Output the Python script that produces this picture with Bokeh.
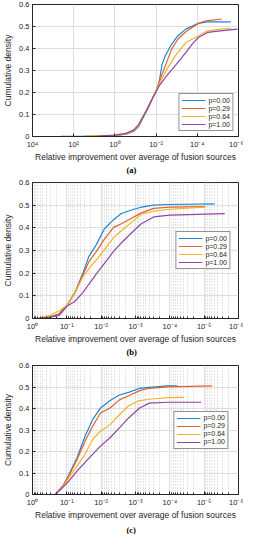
import numpy as np
from bokeh.plotting import figure
from bokeh.models import Range1d, FixedTicker, Legend, LegendItem, Title
from bokeh.layouts import column
from bokeh.embed import file_html
from bokeh.resources import INLINE

# ---------------- data (x stored as log10 of relative improvement) ----------------
series_labels = ["p=0.00", "p=0.29", "p=0.64", "p=1.00"]
series_colors = ["#1f86cf", "#e0622e", "#f2b42c", "#8f45a3"]

y_ticks = [0.0, 0.1, 0.2, 0.3, 0.4, 0.5, 0.6]
y_tick_labels = ["0", "0.1", "0.2", "0.3", "0.4", "0.5", "0.6"]

# panel (a)
a_exp_p000 = [2.6, 1.0, 0.0, -0.53, -0.92, -1.15, -1.30, -1.50, -1.68, -1.85, -2.02, -2.14, -2.29, -2.44, -2.75, -3.05, -3.44, -4.05, -4.50, -5.62]
a_cd_p000 = [0.001, 0.002, 0.004, 0.011, 0.024, 0.045, 0.072, 0.108, 0.143, 0.178, 0.21, 0.244, 0.328, 0.366, 0.419, 0.457, 0.488, 0.514, 0.521, 0.521]
a_exp_p029 = [1.5, 0.0, -0.53, -0.92, -1.15, -1.30, -1.50, -1.68, -1.85, -2.02, -2.14, -2.44, -2.75, -3.05, -3.44, -4.05, -4.43, -5.19]
a_cd_p029 = [0.001, 0.005, 0.012, 0.026, 0.05, 0.076, 0.11, 0.145, 0.18, 0.213, 0.244, 0.32, 0.396, 0.442, 0.476, 0.514, 0.526, 0.534]
a_exp_p064 = [1.3, 0.0, -0.53, -0.92, -1.15, -1.30, -1.50, -1.68, -1.85, -2.02, -2.14, -2.52, -2.98, -3.44, -4.05, -4.50, -5.11, -5.62]
a_cd_p064 = [0.001, 0.005, 0.012, 0.027, 0.05, 0.077, 0.112, 0.147, 0.18, 0.21, 0.236, 0.305, 0.373, 0.427, 0.457, 0.48, 0.488, 0.491]
a_exp_p100 = [0.8, 0.0, -0.53, -0.92, -1.15, -1.30, -1.50, -1.68, -1.85, -2.02, -2.14, -2.52, -2.98, -3.44, -3.74, -4.05, -4.50, -5.11, -5.95]
a_cd_p100 = [0.002, 0.006, 0.014, 0.03, 0.054, 0.08, 0.113, 0.146, 0.178, 0.207, 0.229, 0.277, 0.328, 0.381, 0.419, 0.45, 0.473, 0.48, 0.488]

# panel (b)
b_exp_p000 = [-0.15, -0.51, -0.78, -1.01, -1.23, -1.46, -1.64, -1.86, -2.09, -2.36, -2.59, -2.95, -3.17, -3.53, -3.99, -5.30]
b_cd_p000 = [0.0, 0.006, 0.021, 0.059, 0.113, 0.197, 0.273, 0.326, 0.395, 0.436, 0.463, 0.482, 0.491, 0.5, 0.503, 0.506]
b_exp_p029 = [-0.15, -0.51, -0.78, -1.01, -1.23, -1.46, -1.64, -1.86, -2.09, -2.36, -2.59, -2.95, -3.17, -3.53, -3.99, -5.03]
b_cd_p029 = [0.0, 0.006, 0.021, 0.059, 0.113, 0.189, 0.25, 0.296, 0.349, 0.402, 0.418, 0.448, 0.466, 0.486, 0.491, 0.494]
b_exp_p064 = [-0.15, -0.51, -0.78, -1.01, -1.23, -1.46, -1.64, -1.86, -2.09, -2.36, -2.59, -2.95, -3.17, -3.53, -3.99, -5.03]
b_cd_p064 = [0.0, 0.014, 0.034, 0.059, 0.11, 0.181, 0.22, 0.258, 0.303, 0.357, 0.387, 0.433, 0.46, 0.474, 0.482, 0.491]
b_exp_p100 = [-0.15, -0.51, -0.78, -1.01, -1.23, -1.46, -1.64, -1.86, -2.09, -2.36, -2.59, -2.95, -3.17, -3.53, -3.99, -5.60]
b_cd_p100 = [0.0, 0.006, 0.014, 0.055, 0.075, 0.113, 0.151, 0.197, 0.242, 0.296, 0.334, 0.387, 0.418, 0.448, 0.456, 0.463]

# panel (c)
c_exp_p000 = [-0.66, -0.89, -1.07, -1.30, -1.53, -1.75, -1.98, -2.26, -2.53, -2.80, -3.12, -3.40, -3.95, -4.22]
c_cd_p000 = [0.0, 0.041, 0.095, 0.172, 0.271, 0.348, 0.402, 0.437, 0.463, 0.475, 0.494, 0.498, 0.505, 0.505]
c_exp_p029 = [-0.66, -0.89, -1.07, -1.30, -1.53, -1.75, -1.98, -2.26, -2.53, -2.80, -3.12, -3.40, -3.95, -5.23]
c_cd_p029 = [0.0, 0.041, 0.09, 0.164, 0.248, 0.317, 0.379, 0.402, 0.44, 0.459, 0.483, 0.494, 0.501, 0.505]
c_exp_p064 = [-0.66, -0.89, -1.07, -1.30, -1.53, -1.75, -1.98, -2.26, -2.53, -2.80, -3.12, -3.40, -3.95, -4.41]
c_cd_p064 = [0.0, 0.038, 0.08, 0.133, 0.187, 0.256, 0.294, 0.325, 0.371, 0.413, 0.437, 0.443, 0.451, 0.452]
c_exp_p100 = [-0.66, -0.89, -1.07, -1.30, -1.53, -1.75, -1.98, -2.26, -2.53, -2.80, -3.12, -3.40, -3.95, -4.91]
c_cd_p100 = [0.0, 0.034, 0.064, 0.11, 0.149, 0.187, 0.225, 0.264, 0.31, 0.356, 0.402, 0.425, 0.429, 0.429]

a_tick_exps = [4, 2, 0, -2, -4, -6]
bc_tick_exps = [0, -1, -2, -3, -4, -5, -6]

x_label = "Relative improvement over average of fusion sources"
y_label = "Cumulative density"

SUP = str.maketrans("-0123456789", "⁻⁰¹²³⁴⁵⁶⁷⁸⁹")
AX = "#262626"


def build(series, x_start, tick_exps, with_minor, leg_loc, leg_margin, tag,
          height, top_border, tag_valign):
    p = figure(width=243, height=height, x_axis_type="log",
               x_range=Range1d(x_start, 1e-6), y_range=Range1d(0, 0.6),
               output_backend="svg", toolbar_location=None,
               min_border_left=23, min_border_right=5,
               min_border_top=top_border, min_border_bottom=0)
    p.title.visible = False
    p.outline_line_color = AX
    p.outline_line_width = 1
    p.border_fill_alpha = 0

    ticks = [10.0 ** e for e in tick_exps]
    minor = []
    if with_minor:
        minor = [m * 10.0 ** e for e in range(min(tick_exps), max(tick_exps)) for m in range(2, 10)]
    p.xaxis.ticker = FixedTicker(ticks=ticks, minor_ticks=minor)
    p.xaxis.major_label_overrides = {t: "10" + str(e).translate(SUP) for t, e in zip(ticks, tick_exps)}
    p.yaxis.ticker = FixedTicker(ticks=y_ticks)
    p.yaxis.major_label_overrides = dict(zip(y_ticks, y_tick_labels))

    for ax in (p.xaxis[0], p.yaxis[0]):
        ax.axis_line_color = AX
        ax.major_tick_line_color = AX
        ax.minor_tick_line_color = AX
        ax.major_tick_in = 3
        ax.major_tick_out = 0
        ax.minor_tick_in = 2 if with_minor else 0
        ax.minor_tick_out = 0
        ax.major_label_text_font = "Liberation Sans"
        ax.major_label_text_font_size = "7.5px"
        ax.major_label_text_color = AX
        ax.axis_label_text_font = "Liberation Sans"
        ax.axis_label_text_font_size = "8.5px"
        ax.axis_label_text_font_style = "normal"
        ax.axis_label_text_color = AX
    p.yaxis.minor_tick_in = 0
    p.xaxis.axis_label = x_label
    p.yaxis.axis_label = y_label
    p.xaxis.major_label_standoff = 3
    p.xaxis.axis_label_standoff = 0
    p.yaxis.major_label_standoff = 3
    p.yaxis.axis_label_standoff = 3

    p.xgrid.grid_line_color = "#dedede"
    p.ygrid.grid_line_color = "#dedede"
    if with_minor:
        p.xgrid.minor_grid_line_color = "#c8c8c8"
        p.xgrid.minor_grid_line_dash = "1 2"

    items = []
    for (ex, cd), lab, col in zip(series, series_labels, series_colors):
        r = p.line(10.0 ** np.array(ex), cd, line_color=col, line_width=1.2)
        items.append(LegendItem(label=lab, renderers=[r]))
    leg = Legend(items=items, location=leg_loc, margin=leg_margin,
                 border_line_color=AX, border_line_width=1,
                 background_fill_color="white", background_fill_alpha=1,
                 label_text_font="Liberation Sans", label_text_font_size="7px",
                 label_text_color=AX, label_height=8, glyph_height=8,
                 glyph_width=24, label_standoff=3, padding=2, spacing=0)
    p.add_layout(leg)

    t = Title(text=tag, align="left", offset=94, text_font="Liberation Serif",
              text_font_style="bold", text_font_size="8.5px", text_color="black",
              standoff=0, vertical_align=tag_valign)
    p.add_layout(t, "below")
    return p


pa = build([(a_exp_p000, a_cd_p000), (a_exp_p029, a_cd_p029),
            (a_exp_p064, a_cd_p064), (a_exp_p100, a_cd_p100)],
           1e4, a_tick_exps, False, "bottom_right", 5, "(a)", 176, 4, "top")
pb = build([(b_exp_p000, b_cd_p000), (b_exp_p029, b_cd_p029),
            (b_exp_p064, b_cd_p064), (b_exp_p100, b_cd_p100)],
           1.0, bc_tick_exps, True, "center_right", 8, "(b)", 186, 10, "top")
pc = build([(c_exp_p000, c_cd_p000), (c_exp_p029, c_cd_p029),
            (c_exp_p064, c_cd_p064), (c_exp_p100, c_cd_p100)],
           1.0, bc_tick_exps, True, "center_right", 10, "(c)", 181, 12, "bottom")
pb.margin = (-4, 0, 0, 0)
pc.margin = (-5, 0, 0, 0)

layout = column(pa, pb, pc, spacing=0)
open("out.html", "w").write(file_html(layout, INLINE))
